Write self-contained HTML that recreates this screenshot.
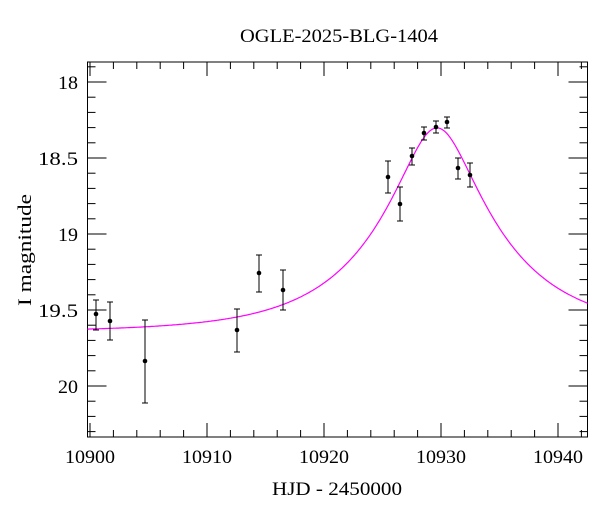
<!DOCTYPE html>
<html><head><meta charset="utf-8"><style>
body{margin:0;background:#fff;}
svg text{font-family:"Liberation Serif",serif;fill:#000;}
</style></head><body>
<svg id="s" width="600" height="512" xmlns="http://www.w3.org/2000/svg">
<rect width="600" height="512" fill="#fff"/>
<text x="339" y="42" font-size="19" text-anchor="middle" textLength="198" lengthAdjust="spacingAndGlyphs">OGLE-2025-BLG-1404</text>
<text x="337" y="495" font-size="19" text-anchor="middle" textLength="130" lengthAdjust="spacingAndGlyphs">HJD - 2450000</text>
<text transform="translate(31,250) rotate(-90)" font-size="19" text-anchor="middle" textLength="112" lengthAdjust="spacingAndGlyphs">I magnitude</text>
<g id="ax" stroke="#000" stroke-width="1"></g>
<g id="lab" font-size="19"></g>
<path id="curve" fill="none" stroke="#ff00ff" stroke-width="1.2"/>
<g id="pts" stroke="#000" stroke-width="1"></g>
</svg>
<script>
const L=87.5,R=587.5,T=62,B=437;
const X=t=>90+(t-10900)*11.7, Y=m=>82+(m-18)*152;
const ns="http://www.w3.org/2000/svg";
function el(p,n,a,txt){const e=document.createElementNS(ns,n);for(const k in a)e.setAttribute(k,a[k]);if(txt!=null)e.textContent=txt;document.getElementById(p).appendChild(e);}
el('ax','rect',{x:L,y:T,width:R-L,height:B-T,fill:'none'});
for(let t=10900;t<=10942;t+=2){const x=X(t),maj=t%10==0,l=maj?14:7;
 el('ax','line',{x1:x,y1:B,x2:x,y2:B-l});el('ax','line',{x1:x,y1:T,x2:x,y2:T+l});
 if(maj)el('lab','text',{x:x,y:463,'text-anchor':'middle',textLength:50,lengthAdjust:'spacingAndGlyphs'},String(t));}
for(let i=179;i<=203;i++){const m=i/10,y=Y(m),maj=i%5==0,l=maj?19:8;
 el('ax','line',{x1:L,y1:y,x2:L+l,y2:y});el('ax','line',{x1:R,y1:y,x2:R-l,y2:y});
 if(maj){const s=(i%10==0)?String(i/10):(i/10).toFixed(1);el('lab','text',{x:78,y:y+7,'text-anchor':'end',textLength:s.length==2?20:40,lengthAdjust:'spacingAndGlyphs'},s);}}
const t0=10929.66,u0=0.30,tE=10.2,base=19.645;
let d='';for(let x=L;x<=R;x+=1){const t=10900+(x-90)/11.7,u=Math.sqrt(u0*u0+((t-t0)/tE)**2),A=(u*u+2)/(u*Math.sqrt(u*u+4)),m=base-2.5*Math.log10(A);d+=(d?'L':'M')+x.toFixed(1)+' '+Y(m).toFixed(1);}
document.getElementById('curve').setAttribute('d',d);
const P=[[96,314,300,330],[110,321,302,340],[145,361,320,403],[237,330,309,352],[259,273,255,292],[283,290,270,310],[388,177,161,193],[400,204,187,221],[412,156,148,165],[424,133,127,140],[436,127,121,133],[447,122,117,128],[458,168,158,179],[470,175,163,187]];
for(const [x,y,a,b] of P){el('pts','line',{x1:x,y1:a,x2:x,y2:b});el('pts','line',{x1:x-3,y1:a,x2:x+3,y2:a});el('pts','line',{x1:x-3,y1:b,x2:x+3,y2:b});el('pts','circle',{cx:x,cy:y,r:2.3,fill:'#000',stroke:'none'});}
</script>
</body></html>
